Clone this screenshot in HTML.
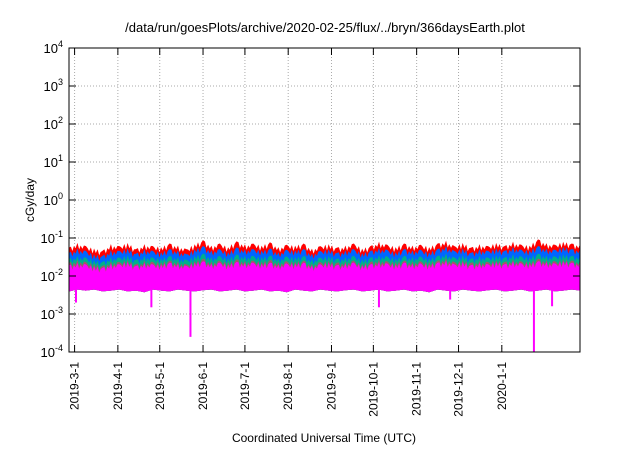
<!DOCTYPE html>
<html><head><meta charset="utf-8"><style>
body{margin:0;background:#fff;font-family:"Liberation Sans",Arial,sans-serif}
svg text{font-family:"Liberation Sans",Arial,sans-serif;fill:#000}
</style></head><body>
<svg id="chart" width="640" height="448" xmlns="http://www.w3.org/2000/svg">
<rect width="640" height="448" fill="#fff"/>
<text x="325" y="32" font-size="13" text-anchor="middle">/data/run/goesPlots/archive/2020-02-25/flux/../bryn/366daysEarth.plot</text>
<g id="grid"></g>
<g id="series"></g>
<g id="axes"></g>
<text transform="translate(34,200) rotate(-90)" font-size="12" text-anchor="middle">cGy/day</text>
<text x="324" y="442" font-size="12" text-anchor="middle">Coordinated Universal Time (UTC)</text>
</svg>
<script>
const yTickExps=[-4,-3,-2,-1,0,1,2,3,4];
const xTickLabels=["2019-3-1","2019-4-1","2019-5-1","2019-6-1","2019-7-1","2019-8-1","2019-9-1","2019-10-1","2019-11-1","2019-12-1","2020-1-1"];
const xTickDays=[4,35,65,96,126,157,188,218,249,279,310];
const redTop=[0.055,0.07,0.06,0.05,0.045,0.065,0.06,0.07,0.05,0.065,0.06,0.055,0.07,0.06,0.05,0.065,0.085,0.06,0.07,0.055,0.08,0.065,0.07,0.06,0.075,0.055,0.065,0.06,0.07,0.05,0.06,0.065,0.055,0.06,0.07,0.05,0.06,0.075,0.065,0.055,0.07,0.06,0.065,0.055,0.07,0.08,0.06,0.07,0.055,0.065,0.06,0.07,0.06,0.075,0.065,0.06,0.09,0.07,0.065,0.075,0.07,0.065];
const blueTop=[0.04,0.05,0.045,0.035,0.033,0.045,0.045,0.05,0.038,0.048,0.045,0.04,0.05,0.045,0.037,0.048,0.06,0.045,0.05,0.04,0.055,0.048,0.05,0.045,0.052,0.04,0.048,0.045,0.05,0.037,0.045,0.048,0.04,0.045,0.05,0.038,0.045,0.052,0.048,0.04,0.05,0.045,0.048,0.04,0.05,0.058,0.045,0.05,0.04,0.048,0.045,0.05,0.045,0.055,0.048,0.045,0.06,0.05,0.048,0.055,0.05,0.048];
const greenTop=[0.028,0.032,0.03,0.025,0.023,0.03,0.03,0.033,0.026,0.032,0.03,0.028,0.033,0.03,0.026,0.032,0.038,0.03,0.033,0.028,0.036,0.032,0.033,0.03,0.034,0.028,0.032,0.03,0.033,0.026,0.03,0.032,0.028,0.03,0.033,0.026,0.03,0.034,0.032,0.028,0.033,0.03,0.032,0.028,0.033,0.037,0.03,0.033,0.028,0.032,0.03,0.033,0.03,0.035,0.032,0.03,0.038,0.033,0.032,0.035,0.033,0.032];
const brownTop=[0.022,0.025,0.023,0.02,0.018,0.023,0.023,0.025,0.02,0.024,0.023,0.022,0.025,0.023,0.02,0.024,0.028,0.023,0.025,0.022,0.027,0.024,0.025,0.023,0.026,0.022,0.024,0.023,0.025,0.02,0.023,0.024,0.022,0.023,0.025,0.02,0.023,0.026,0.024,0.022,0.025,0.023,0.024,0.022,0.025,0.028,0.023,0.025,0.022,0.024,0.023,0.025,0.023,0.026,0.024,0.023,0.028,0.025,0.024,0.026,0.025,0.024];
const magentaTop=[0.019,0.021,0.02,0.017,0.016,0.02,0.02,0.022,0.018,0.021,0.02,0.019,0.022,0.02,0.018,0.021,0.024,0.02,0.022,0.019,0.023,0.021,0.022,0.02,0.022,0.019,0.021,0.02,0.022,0.018,0.02,0.021,0.019,0.02,0.022,0.018,0.02,0.022,0.021,0.019,0.022,0.02,0.021,0.019,0.022,0.024,0.02,0.022,0.019,0.021,0.02,0.022,0.02,0.023,0.021,0.02,0.024,0.022,0.021,0.023,0.022,0.021];
const magentaBottom=[0.004,0.0045,0.0042,0.0045,0.004,0.0042,0.0045,0.004,0.0042,0.0038,0.0045,0.0042,0.004,0.0045,0.0042,0.004,0.0043,0.0045,0.004,0.0042,0.0045,0.004,0.0042,0.0045,0.004,0.0042,0.0038,0.0045,0.0042,0.004,0.0045,0.0042,0.004,0.0043,0.0045,0.004,0.0042,0.0045,0.004,0.0042,0.0045,0.004,0.0042,0.0038,0.0045,0.0042,0.004,0.0045,0.0042,0.004,0.0043,0.0045,0.004,0.0042,0.0045,0.004,0.0042,0.0045,0.004,0.0042,0.0045,0.0042];
const dipDays=[5,59,87,222,273,333,346];
const dipValues=[0.002,0.0015,0.00025,0.0015,0.0024,0.0001,0.0016];
const NS="http://www.w3.org/2000/svg";
const L=69,R=580,T=48,B=352,totalDays=366;
const jag=[0.78,1.0,0.7,0.92];
function xs(d){return L+d*(R-L)/totalDays;}
function ys(v){return B-(Math.log10(v)+4)*(B-T)/8;}
function mk(tag,attrs,parent){const e=document.createElementNS(NS,tag);for(const k in attrs)e.setAttribute(k,attrs[k]);parent.appendChild(e);return e;}
const grid=document.getElementById('grid'),axes=document.getElementById('axes'),ser=document.getElementById('series');
yTickExps.forEach(p=>{
  const y=ys(Math.pow(10,p));
  if(p>-4&&p<4){const g=mk('line',{x1:L,x2:R,y1:y,y2:y,stroke:'#aaa','stroke-dasharray':'1,2','stroke-width':1},grid);
  
  }
  const t1=mk('line',{x1:L,x2:L+7,y1:y,y2:y,stroke:'#000'},axes);
  
  
  mk('line',{x1:R-7,x2:R,y1:y,y2:y,stroke:'#000'},axes);
  const tx=mk('text',{x:L-6,y:y+5,'font-size':13,'text-anchor':'end'},axes);
  
  
  tx.appendChild(document.createTextNode('10'));
  const sp=mk('tspan',{dy:-6,'font-size':9},tx);sp.textContent=String(p);
});
xTickDays.forEach((d,i)=>{
  const x=xs(d);
  const g=mk('line',{x1:x,x2:x,y1:T,y2:B,stroke:'#aaa','stroke-dasharray':'1,2'},grid);
  
  
  mk('line',{x1:x,x2:x,y1:B,y2:B-7,stroke:'#000'},axes);
  mk('line',{x1:x,x2:x,y1:T,y2:T+7,stroke:'#000'},axes);
  const t=mk('text',{transform:`translate(${x+4},${B+10}) rotate(-90)`,'font-size':12,'text-anchor':'end'},axes);
  
  
  t.textContent=xTickLabels[i];
});
function band(top,color,name){
  const n=top.length;let pts=[];
  for(let i=0;i<n;i++){const d=i*totalDays/(n-1);pts.push(xs(d).toFixed(1)+','+ys(top[i]).toFixed(1));
    if(i<n-1){for(let k=1;k<=4;k++){const d2=(i+k/5)*totalDays/(n-1);const v=top[i]+(top[i+1]-top[i])*k/5;pts.push(xs(d2).toFixed(1)+','+ys(v*jag[(k+i)%4]).toFixed(1));}}}
  for(let i=n-1;i>=0;i--){const d=i*totalDays/(n-1);pts.push(xs(d).toFixed(1)+','+ys(magentaBottom[i]).toFixed(1));}
  const p=mk('polygon',{points:pts.join(' '),fill:color,stroke:color,'stroke-width':0.6},ser);
  
  
}
band(redTop,'#ff0000','series-red');
band(blueTop,'#0066ff','series-blue');
band(greenTop,'#00b08a','series-green');
band(brownTop,'#a05a6a','series-brown');
band(magentaTop,'#ff00ff','series-magenta');
dipDays.forEach((d,i)=>{
  const x=xs(d);
  const l=mk('line',{x1:x,x2:x,y1:ys(0.005),y2:Math.min(B,ys(dipValues[i])),stroke:'#ff00ff','stroke-width':2},ser);
  
  
});
const f=mk('rect',{x:L,y:T,width:R-L,height:B-T,fill:'none',stroke:'#000','stroke-width':1},axes);


</script>
</body></html>
